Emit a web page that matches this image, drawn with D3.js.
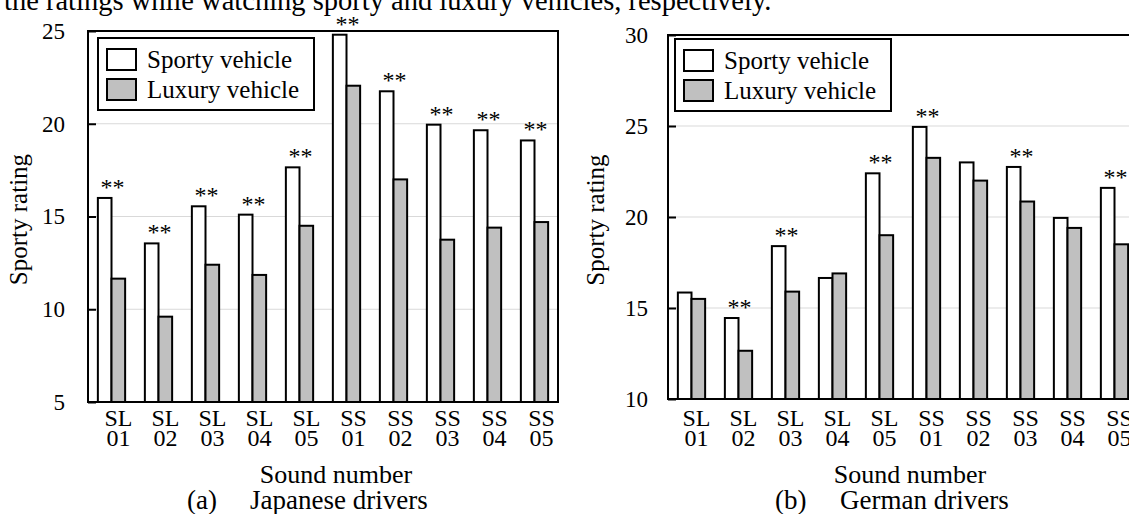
<!DOCTYPE html>
<html>
<head>
<meta charset="utf-8">
<script src="https://cdn.jsdelivr.net/npm/d3@7"></script>
<style>
  html, body { margin: 0; padding: 0; background: #fff; }
  svg { display: block; }
  text { font-family: "Liberation Serif", "Times New Roman", serif; fill: #000; }
</style>
</head>
<body>
<svg id="chart" width="1129" height="514"></svg>
<script>
// ---------- data ----------
const soundPrefix = ["SL", "SL", "SL", "SL", "SL", "SS", "SS", "SS", "SS", "SS"];
const soundNumber = ["01", "02", "03", "04", "05", "01", "02", "03", "04", "05"];
const seriesNames = ["Sporty vehicle", "Luxury vehicle"];

const japaneseSporty = [16.0, 13.55, 15.55, 15.1, 17.65, 24.8, 21.75, 19.95, 19.65, 19.1];
const japaneseLuxury = [11.65, 9.6, 12.4, 11.85, 14.5, 22.05, 17.0, 13.75, 14.4, 14.7];
const japaneseSignificant = [true, true, true, true, true, true, true, true, true, true];
const japaneseTicks = [5, 10, 15, 20, 25];

const germanSporty = [15.85, 14.45, 18.4, 16.65, 22.4, 24.95, 23.0, 22.75, 19.95, 21.6];
const germanLuxury = [15.5, 12.65, 15.9, 16.9, 19.0, 23.25, 22.0, 20.85, 19.4, 18.5];
const germanSignificant = [false, true, true, false, true, true, false, true, false, true];
const germanTicks = [10, 15, 20, 25, 30];

const headerText = "the ratings while watching sporty and luxury vehicles, respectively.";
const yTitle = "Sporty rating";
const xTitle = "Sound number";
const captions = [["(a)", "Japanese drivers"], ["(b)", "German drivers"]];

// ---------- drawing ----------
const svg = d3.select("#chart");
svg.append("rect").attr("width", 1129).attr("height", 514).attr("fill", "#fff");

svg.append("text")
  .attr("x", 4).attr("y", 10)
  .attr("font-size", 28.5)
  .text(headerText);

const colors = ["#ffffff", "#c0c0c0"];

function drawPanel(p) {
  const g = svg.append("g");
  const x = d3.scaleBand().domain(d3.range(soundPrefix.length))
    .range([p.left, p.left + p.width]).paddingInner(0.42).paddingOuter(0.21);
  const xs = d3.scaleBand().domain([0, 1]).range([0, x.bandwidth()]);
  const y = d3.scaleLinear().domain([p.ticks[0], p.ticks[p.ticks.length - 1]])
    .range([p.bottom, p.top]);

  // gridlines
  g.append("g").selectAll("line")
    .data(p.ticks.slice(1, -1)).join("line")
    .attr("x1", p.left).attr("x2", p.left + p.width)
    .attr("y1", d => y(d)).attr("y2", d => y(d))
    .attr("stroke", "#d9d9d9").attr("stroke-width", 1);

  // y axis (inward ticks)
  const yAxis = d3.axisLeft(y).tickValues(p.ticks).tickSize(-8).tickPadding(p.tickPad)
    .tickFormat(d3.format("d"));
  const ya = g.append("g").attr("transform", `translate(${p.left},0)`).call(yAxis);
  ya.select(".domain").remove();
  ya.selectAll(".tick line").attr("stroke", "#000").attr("stroke-width", 2);
  ya.selectAll(".tick text")
    .attr("font-family", "Liberation Serif, serif")
    .attr("font-size", 23).attr("fill", "#000");

  // bars
  const series = [p.sporty, p.luxury];
  series.forEach((vals, si) => {
    g.append("g").selectAll("rect")
      .data(vals).join("rect")
      .attr("x", (d, i) => x(i) + xs(si))
      .attr("width", xs.bandwidth())
      .attr("y", d => y(d))
      .attr("height", d => p.bottom - y(d))
      .attr("fill", colors[si])
      .attr("stroke", "#000").attr("stroke-width", 2);
  });

  // significance markers
  g.append("g").selectAll("text")
    .data(p.sporty.map((v, i) => ({ v, i, s: p.sig[i] })).filter(d => d.s))
    .join("text")
    .attr("x", d => x(d.i) + x.bandwidth() / 2 + 1)
    .attr("y", d => y(Math.max(d.v, p.luxury[d.i])) - 3)
    .attr("text-anchor", "middle")
    .attr("font-size", 24)
    .text("**");

  // frame
  g.append("rect")
    .attr("x", p.left).attr("y", p.top)
    .attr("width", p.width).attr("height", p.bottom - p.top)
    .attr("fill", "none").attr("stroke", "#000").attr("stroke-width", 2);

  // x tick labels (two lines)
  const cx = i => x(i) + x.bandwidth() / 2 + p.labelShift;
  g.append("g").selectAll("text")
    .data(d3.range(soundPrefix.length)).join("text")
    .attr("text-anchor", "middle").attr("font-size", 24)
    .attr("x", cx).attr("y", 426).text(i => soundPrefix[i]);
  g.append("g").selectAll("text")
    .data(d3.range(soundNumber.length)).join("text")
    .attr("text-anchor", "middle").attr("font-size", 24)
    .attr("x", cx).attr("y", 446).text(i => soundNumber[i]);

  // axis titles
  g.append("text")
    .attr("x", p.xTitleX).attr("y", 483)
    .attr("text-anchor", "middle").attr("font-size", 26)
    .text(xTitle);
  g.append("text")
    .attr("transform", `translate(${p.yTitleX},${(p.top + p.bottom) / 2 + 3}) rotate(-90)`)
    .attr("text-anchor", "middle").attr("font-size", 25)
    .text(yTitle);

  // caption
  g.append("text").attr("x", p.capX).attr("y", 509).attr("font-size", 27).text(p.caption[0]);
  g.append("text").attr("x", p.capX2).attr("y", 509).attr("font-size", 27).text(p.caption[1]);

  // legend
  const L = p.legend;
  g.append("rect").attr("x", L.x).attr("y", L.y).attr("width", L.w).attr("height", L.h)
    .attr("fill", "#fff").attr("stroke", "#000").attr("stroke-width", 2);
  seriesNames.forEach((name, si) => {
    g.append("rect")
      .attr("x", L.x + 9).attr("y", L.y + 11 + si * 30)
      .attr("width", 29).attr("height", 21)
      .attr("fill", colors[si]).attr("stroke", "#000").attr("stroke-width", 2);
    g.append("text")
      .attr("x", L.x + 49).attr("y", L.y + 30 + si * 30)
      .attr("font-size", 25)
      .text(name);
  });
}

drawPanel({
  left: 88, width: 470, top: 31, bottom: 402,
  ticks: japaneseTicks, sporty: japaneseSporty, luxury: japaneseLuxury,
  sig: japaneseSignificant, labelShift: 7, yTitleX: 27, tickPad: 23, xTitleX: 336,
  caption: captions[0], capX: 187, capX2: 250,
  legend: { x: 98, y: 38, w: 216, h: 72 }
});

drawPanel({
  left: 668, width: 470, top: 35, bottom: 399,
  ticks: germanTicks, sporty: germanSporty, luxury: germanLuxury,
  sig: germanSignificant, labelShift: 5, yTitleX: 604, tickPad: 20, xTitleX: 910,
  caption: captions[1], capX: 775, capX2: 840,
  legend: { x: 675, y: 39, w: 216, h: 72 }
});
</script>
</body>
</html>
